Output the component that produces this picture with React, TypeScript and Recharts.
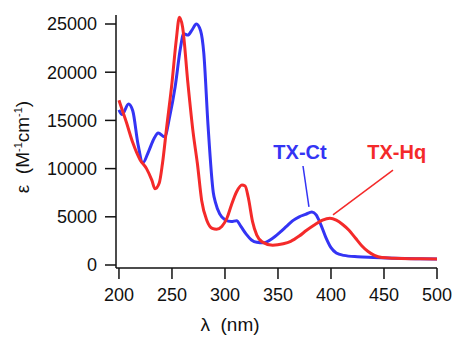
import { LineChart, Line, XAxis, YAxis, ReferenceLine, ReferenceDot } from "recharts";

// TX-Ct (blue) absorption spectrum
const ctNm = [200, 203, 209, 213, 218, 222.5, 228, 233, 237, 243, 248, 253, 258, 261, 265, 269, 273, 277, 280, 284, 289, 291, 295, 300, 306, 311, 315, 320, 325, 330, 336, 344, 352, 358, 364, 370, 376, 382, 386, 390, 395, 400, 405, 412, 425, 440, 460, 480, 500];
const ctEps = [16100, 15600, 16700, 16000, 12500, 10600, 11800, 13100, 13700, 13300, 15500, 18500, 22500, 24000, 23850, 24400, 25000, 24300, 22000, 14500, 7500, 6500, 5300, 4700, 4500, 4600, 4000, 3200, 2600, 2350, 2300, 2700, 3400, 4000, 4600, 5000, 5250, 5500, 5200, 4300, 2900, 1800, 1250, 1000, 850, 780, 700, 650, 620];

// TX-Hq (red) absorption spectrum
const hqNm = [200, 203, 207, 213, 220, 226, 231, 234, 238, 241, 245, 250, 254, 257, 260, 265, 270, 274, 278, 283, 288, 292, 297, 302, 306, 311, 316, 319, 322, 326, 330, 335, 345, 355, 362, 370, 377, 385, 392, 399, 405, 411, 417, 423, 429, 435, 441, 448, 460, 480, 500];
const hqEps = [17100, 16100, 14800, 12700, 10900, 10000, 8800, 7900, 8500, 10500, 14300, 18900, 23300, 25700, 24700, 18900, 13700, 10500, 6700, 4600, 3800, 3700, 4000, 4900, 6200, 7600, 8300, 8200, 7000, 4500, 3100, 2400, 2050, 2200, 2450, 3000, 3600, 4200, 4650, 4850, 4650, 4200, 3600, 2800, 2000, 1400, 1000, 780, 700, 650, 620];

const xTicks = [200, 250, 300, 350, 400, 450, 500];
const yTicks = [0, 5000, 10000, 15000, 20000, 25000];

const ctData = ctNm.map((nm, i) => ({ nm, eps: ctEps[i] }));
const hqData = hqNm.map((nm, i) => ({ nm, eps: hqEps[i] }));

const BLUE = "#3434f4";
const RED = "#f42a2a";
const FONT = "'Liberation Sans', Arial, Helvetica, sans-serif";

const tickStyle = { fontSize: 18, fill: "#111", fontFamily: FONT };

export default function App() {
  return (
    <div style={{ position: "absolute", left: 0, top: 0, background: "#fff" }}>
      <LineChart width={454} height={337} margin={{ top: 15, right: 17, bottom: 0, left: 0 }}>
        <XAxis
          type="number"
          dataKey="nm"
          domain={[197.2, 500]}
          ticks={xTicks}
          allowDataOverflow
          height={69}
          tick={tickStyle}
          tickSize={11}
          tickMargin={9}
          stroke="#111"
          strokeWidth={1.5}
          label={{
            content: () => (
              <text x={230} y={331} textAnchor="middle" fontSize={19} fontFamily={FONT} fill="#111" xmlSpace="preserve">
                {"λ  (nm)"}
              </text>
            ),
          }}
        />
        <YAxis
          type="number"
          dataKey="eps"
          domain={[-311, 25934]}
          ticks={yTicks}
          allowDataOverflow
          width={116}
          tick={tickStyle}
          tickSize={11}
          tickMargin={8}
          stroke="#111"
          strokeWidth={1.5}
          label={{
            content: () => (
              <text transform="translate(29,147) rotate(-90)" textAnchor="middle" fontSize={19} fontFamily={FONT} fill="#111" xmlSpace="preserve">
                {"ε  (M"}
                <tspan fontSize={11} dy={-7}>-1</tspan>
                <tspan dy={7}>cm</tspan>
                <tspan fontSize={11} dy={-7}>-1</tspan>
                <tspan dy={7}>)</tspan>
              </text>
            ),
          }}
        />
        <Line data={ctData} dataKey="eps" type="monotone" stroke={BLUE} strokeWidth={3} dot={false} isAnimationActive={false} />
        <Line data={hqData} dataKey="eps" type="monotone" stroke={RED} strokeWidth={3} dot={false} isAnimationActive={false} />
        <ReferenceLine segment={[{ x: 373.6, y: 10270 }, { x: 379.2, y: 6020 }]} stroke={BLUE} strokeWidth={1.5} />
        <ReferenceLine segment={[{ x: 458.5, y: 9850 }, { x: 401.9, y: 5190 }]} stroke={RED} strokeWidth={1.5} />
        <ReferenceDot
          x={370.8}
          y={11720}
          r={0}
          stroke="none"
          label={{ value: "TX-Ct", position: "center", fill: BLUE, fontSize: 20, fontWeight: "bold", fontFamily: FONT }}
        />
        <ReferenceDot
          x={462}
          y={11720}
          r={0}
          stroke="none"
          label={{ value: "TX-Hq", position: "center", fill: RED, fontSize: 20, fontWeight: "bold", fontFamily: FONT }}
        />
      </LineChart>
    </div>
  );
}
